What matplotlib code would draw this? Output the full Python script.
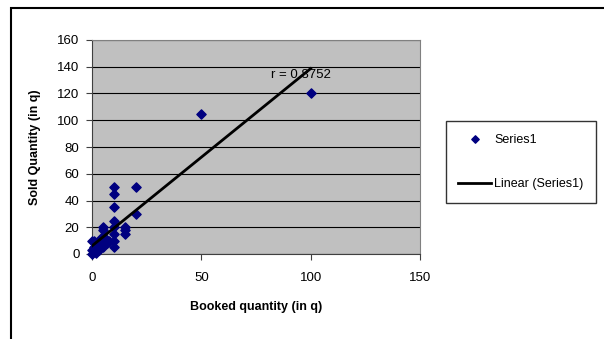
import numpy as np
import matplotlib
matplotlib.use("Agg")
import matplotlib.pyplot as plt
from matplotlib.patches import Rectangle

plt.rcParams['font.family'] = ['Liberation Sans', 'DejaVu Sans']

# booked vs sold quantities (in q)
booked = [100, 50, 20, 20, 10, 10, 10, 10, 10, 10, 10, 10, 15, 15, 15,
          5, 5, 5, 5, 5, 3, 3, 2, 2, 1, 1, 0, 0, 0, 1, 4, 6, 7, 2, 3, 8]
sold = [120, 105, 50, 30, 50, 45, 35, 25, 20, 15, 10, 5, 20, 15, 18,
        20, 18, 10, 8, 5, 10, 5, 8, 3, 2, 5, 0, 3, 10, 10, 12, 12, 8, 1, 3, 10]
r_label = "r = 0.8752"

x = np.array(booked, dtype=float)
y = np.array(sold, dtype=float)
slope, icpt = np.polyfit(x, y, 1)

fig = plt.figure(figsize=(6.04, 3.39), dpi=100)
# outer chart frame (right/bottom edges run off the picture)
fig.patches.append(Rectangle((11/604, -0.05), 1.2, 1 - 8/339 + 0.05,
                             transform=fig.transFigure, fill=False,
                             edgecolor='black', linewidth=1.5))

ax = fig.add_axes([92/604, 1 - 254/339, 328/604, 214/339])
ax.set_facecolor('#c0c0c0')
ax.set_xlim(0, 150)
ax.set_ylim(0, 160)
ax.set_xticks([0, 50, 100, 150])
ax.set_yticks(range(0, 161, 20))
ax.yaxis.grid(True, color='black', linewidth=0.8)
ax.set_axisbelow(True)
for s in ['top', 'right']:
    ax.spines[s].set_color('#808080')
for s in ['left', 'bottom']:
    ax.spines[s].set_color('#404040')
ax.tick_params(labelsize=9.5, length=4, color='#404040')
ax.tick_params(axis='x', pad=9)
ax.tick_params(axis='y', pad=5)

ax.scatter(x, y, marker='D', s=22, color='#000080', label='Series1',
           zorder=3, clip_on=False)
xs = np.array([0, 100])
ax.plot(xs, icpt + slope * xs, color='black', linewidth=2,
        label='Linear (Series1)', zorder=4)
ax.text(82, 134, r_label, fontsize=9.5, va='center')

ax.set_xlabel('Booked quantity (in q)', fontsize=9, fontweight='bold', labelpad=12)
ax.set_ylabel('Sold Quantity (in q)', fontsize=9, fontweight='bold', labelpad=12)

leg = fig.legend(loc='center', bbox_to_anchor=(521/604, 1 - 162/339),
                 fontsize=9, frameon=True, fancybox=False, edgecolor='black',
                 handlelength=2.6, handletextpad=0.3, labelspacing=2.6,
                 borderpad=1.0, markerscale=0.8, borderaxespad=0.0)
leg.get_frame().set_linewidth(1.0)

fig.savefig('out.png', dpi=100)
